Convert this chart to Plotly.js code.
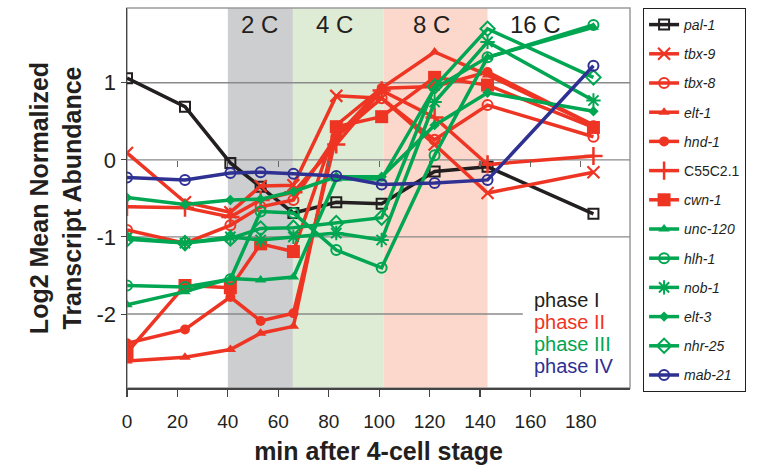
<!DOCTYPE html>
<html>
<head>
<meta charset="utf-8">
<script src="https://cdn.plot.ly/plotly-3.0.1.min.js"></script>
<style>html,body{margin:0;padding:0;background:#fff;}#chart{width:758px;height:465px;}</style>
</head>
<body>
<div id="chart"></div>
<script>
// time points (min after 4-cell stage)
const times = [0, 23, 41, 53, 66, 83, 101, 122, 143, 185];

const genes = ['pal-1','tbx-9','tbx-8','elt-1','hnd-1','C55C2.1','cwn-1','unc-120','hlh-1','nob-1','elt-3','nhr-25','mab-21'];
const italicName = [true,true,true,true,true,false,true,true,true,true,true,true,true];
const phaseOf = ['I','II','II','II','II','II','II','III','III','III','III','III','IV'];

const pal1   = [1.06, 0.69, -0.04, -0.35, -0.69, -0.55, -0.57, -0.15, -0.09, -0.70];
const tbx9   = [0.09, -0.55, -0.68, -0.34, -0.33, 0.83, 0.80, 0.20, -0.43, -0.16];
const tbx8   = [-0.91, -1.08, -0.85, -0.61, -0.52, 0.30, 0.80, 0.26, 0.71, 0.30];
const elt1   = [-2.61, -2.56, -2.46, -2.25, -2.16, 0.45, 0.93, 1.40, 1.10, 0.45];
const hnd1   = [-2.38, -2.20, -1.78, -2.09, -1.99, 0.30, 0.93, 0.95, 1.14, 0.45];
const c55c21 = [-0.61, -0.62, -0.74, -0.52, -0.42, 0.20, 0.90, 0.55, -0.06, 0.05];
const cwn1   = [-2.50, -1.63, -1.66, -1.09, -1.19, 0.43, 0.56, 1.07, 0.97, 0.42];
const unc120 = [-1.88, -1.71, -1.54, -1.56, -1.52, -0.25, -0.25, 0.93, 1.33, 1.72];
const hlh1   = [-1.63, -1.65, -1.55, -0.67, -0.69, -1.17, -1.40, 0.06, 1.33, 1.75];
const nob1   = [-1.01, -1.08, -1.00, -1.04, -1.00, -0.95, -1.04, 0.75, 1.53, 0.77];
const elt3   = [-0.49, -0.58, -0.52, -0.51, -0.41, -0.22, -0.22, 0.45, 0.87, 0.63];
const nhr25  = [-1.03, -1.08, -1.02, -0.89, -0.88, -0.82, -0.75, 0.95, 1.70, 1.07];
const mab21  = [-0.23, -0.26, -0.17, -0.16, -0.18, -0.21, -0.32, -0.30, -0.26, 1.22];
const seriesValues = [pal1, tbx9, tbx8, elt1, hnd1, c55c21, cwn1, unc120, hlh1, nob1, elt3, nhr25, mab21];

// cell stages
const stageLabels = ['2 C', '4 C', '8 C', '16 C'];
const stageStarts = [40, 65.8, 101.8, 143];
const stageEnds   = [65.8, 101.8, 143, 200];
const stageLabelX = [52.7, 82.4, 120.8, 162];

const phaseLabels = ['phase I', 'phase II', 'phase III', 'phase IV'];
const xTicks = [0, 20, 40, 60, 80, 100, 120, 140, 160, 180];
const yTicks = [-2, -1, 0, 1];

// styles
const phaseColor = {I: '#231f20', II: '#ee3524', III: '#00a651', IV: '#2e3192'};
const stageFill = ['#cdced0', '#dfecd5', '#fbd8cb', 'rgba(0,0,0,0)'];
const markerStyle = [
  {symbol: 'square-open', size: 10, lw: 2},
  {symbol: 'x-thin-open', size: 12, lw: 2.2},
  {symbol: 'circle-open', size: 10, lw: 2},
  {symbol: 'triangle-up', size: 10, lw: 0},
  {symbol: 'circle', size: 10, lw: 0},
  {symbol: 'cross-thin-open', size: 13, lw: 2.5},
  {symbol: 'square', size: 13, lw: 0},
  {symbol: 'triangle-up', size: 10, lw: 0},
  {symbol: 'circle-open', size: 10, lw: 2},
  {symbol: 'asterisk-open', size: 12, lw: 2},
  {symbol: 'diamond', size: 8, lw: 0},
  {symbol: 'diamond-open', size: 11, lw: 2},
  {symbol: 'circle-open', size: 10, lw: 2}
];

const baseFont = 'Liberation Sans, Arial, Helvetica, sans-serif';

const traces = genes.map((g, i) => {
  const c = phaseColor[phaseOf[i]];
  const m = markerStyle[i];
  return {
    type: 'scatter', mode: 'lines+markers',
    x: times, y: seriesValues[i],
    name: italicName[i] ? '<i>' + g + '</i>' : g,
    legendgroup: 'g' + i,
    line: {color: c, width: 3.5},
    marker: {symbol: m.symbol, size: m.size, color: c, line: {color: c, width: m.lw}},
    hoverinfo: 'x+y+name'
  };
});
// helper trace to create the tick axis on the zero line
traces.push({type: 'scatter', mode: 'lines', x: xTicks, y: xTicks.map(() => null), xaxis: 'x2', yaxis: 'y', showlegend: false, hoverinfo: 'skip'});

const yMin = -2.96, yMax = 1.97;

const shapes = [];
stageLabels.forEach((s, i) => {
  shapes.push({type: 'rect', xref: 'x', yref: 'paper', x0: stageStarts[i], x1: stageEnds[i], y0: 0, y1: 1,
    fillcolor: stageFill[i], line: {width: 0}, layer: 'below'});
});
yTicks.forEach(v => {
  shapes.push({type: 'line', xref: 'x', yref: 'y', x0: 0, x1: (v === -2 ? 157 : 200), y0: v, y1: v,
    line: {color: '#8a8a8a', width: 1.4}, layer: 'below'});
});
shapes.push({type: 'rect', xref: 'paper', yref: 'paper', x0: 0, x1: 1, y0: 0, y1: 1,
  line: {color: '#9a9a9a', width: 1.5}, fillcolor: 'rgba(0,0,0,0)', layer: 'below'});

const annotations = [];
stageLabels.forEach((s, i) => {
  annotations.push({x: stageLabelX[i], y: 1.75, xref: 'x', yref: 'y', text: s, showarrow: false,
    font: {family: baseFont, size: 24, color: '#231f20'}, xanchor: 'center', yanchor: 'middle'});
});
const phaseKeys = ['I', 'II', 'III', 'IV'];
phaseLabels.forEach((p, i) => {
  annotations.push({x: 160.5, y: -1.82 - i * 0.285, xref: 'x', yref: 'y', text: p, showarrow: false,
    font: {family: baseFont, size: 20, color: phaseColor[phaseKeys[i]]}, xanchor: 'left', yanchor: 'middle'});
});

const layout = {
  width: 758, height: 465,
  margin: {l: 127, r: 128, t: 8, b: 77},
  paper_bgcolor: '#ffffff', plot_bgcolor: '#ffffff',
  showlegend: true,
  legend: {x: 1.026, y: 1.0, xanchor: 'left', yanchor: 'top', bgcolor: '#ffffff',
    bordercolor: '#231f20', borderwidth: 1, tracegroupgap: 8, maxheight: 450,
    font: {family: baseFont, size: 14, color: '#231f20'}},
  xaxis: {range: [0, 199.5], tickvals: xTicks, ticktext: xTicks.map(String),
    ticks: 'outside', ticklen: 7, tickcolor: '#444', tickwidth: 1.2,
    showline: true, linecolor: '#444', linewidth: 1.5, showgrid: false, zeroline: false,
    ticklabelstandoff: 9,
    tickfont: {family: baseFont, size: 19, color: '#231f20'},
    title: {text: '<b>min after 4-cell stage</b>', font: {family: baseFont, size: 25, color: '#231f20'}, standoff: 14}},
  xaxis2: {range: [0, 199.5], overlaying: 'x', anchor: 'free', position: (0 - yMin) / (yMax - yMin),
    tickvals: xTicks.slice(1), ticks: 'outside', ticklen: 6, tickcolor: '#666', tickwidth: 1.2,
    showticklabels: false, showline: false, showgrid: false, zeroline: false},
  yaxis: {range: [yMin, yMax], tickvals: yTicks, ticktext: yTicks.map(String),
    ticks: 'outside', ticklen: 5, tickcolor: '#444',
    showline: true, linecolor: '#444', linewidth: 1.5, showgrid: false, zeroline: false,
    tickfont: {family: baseFont, size: 22, color: '#231f20'},
    title: {text: '<b>Log2 Mean Normalized<br>Transcript Abundance</b>', font: {family: baseFont, size: 25, color: '#231f20'}, standoff: 8}},
  shapes: shapes,
  annotations: annotations
};

Plotly.newPlot('chart', traces, layout, {displayModeBar: false, staticPlot: true});
</script>
</body>
</html>
